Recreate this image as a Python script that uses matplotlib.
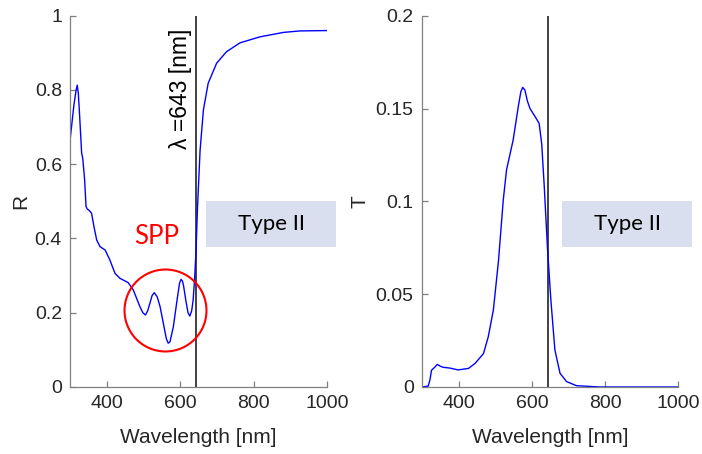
import matplotlib
matplotlib.use('Agg')
import matplotlib.pyplot as plt
from matplotlib.patches import Rectangle

plt.rcParams['font.family'] = ['Liberation Sans', 'DejaVu Sans']

# Data
wl_R = [300, 310, 316, 319, 322, 325, 331, 334, 339, 343, 346, 352, 358, 365, 372, 381,
        395, 408, 422, 435, 458, 472, 490, 498, 505, 511, 517, 523, 529, 537, 545, 556,
        562, 567, 572, 581, 592, 598, 602, 606, 609, 615, 621, 626, 631, 635, 639, 643,
        647, 654, 663, 676, 699, 726, 763, 817, 881, 926, 1000]
R = [0.67, 0.76, 0.80, 0.813, 0.79, 0.74, 0.63, 0.616, 0.56, 0.486, 0.48, 0.475, 0.468,
     0.43, 0.396, 0.378, 0.369, 0.342, 0.306, 0.293, 0.281, 0.261, 0.216, 0.20, 0.194,
     0.205, 0.225, 0.246, 0.254, 0.243, 0.216, 0.16, 0.13, 0.118, 0.122, 0.162, 0.24,
     0.28, 0.29, 0.285, 0.272, 0.234, 0.2, 0.191, 0.205, 0.234, 0.29, 0.369, 0.486,
     0.638, 0.746, 0.818, 0.872, 0.903, 0.927, 0.943, 0.955, 0.959, 0.96]

wl_T = [300, 317, 322, 326, 334, 342, 350, 358, 376, 399, 427, 445, 468, 481, 495, 509,
        522, 531, 549, 563, 570, 575, 581, 588, 595, 609, 620, 627, 634, 643, 652, 663,
        677, 695, 722, 786, 1000]
T = [0.0, 0.0005, 0.004, 0.009, 0.0105, 0.0122, 0.0112, 0.0106, 0.0102, 0.0092, 0.010,
     0.0127, 0.018, 0.027, 0.0415, 0.068, 0.1007, 0.117, 0.133, 0.151, 0.159, 0.1614,
     0.160, 0.154, 0.150, 0.1456, 0.142, 0.131, 0.108, 0.074, 0.047, 0.020, 0.0074,
     0.0029, 0.0007, 0.0, 0.0]

lam = 643

fig = plt.figure(figsize=(7.02, 4.54), dpi=100)
ax1 = fig.add_axes([0.1001, 0.1476, 0.3657, 0.8178])
ax2 = fig.add_axes([0.6011, 0.1476, 0.3651, 0.8178])

tick_col = '#262626'
for ax in (ax1, ax2):
    ax.spines['top'].set_visible(False)
    ax.spines['right'].set_visible(False)
    for s in ('left', 'bottom'):
        ax.spines[s].set_color('#808080')
        ax.spines[s].set_linewidth(0.9)
    ax.tick_params(direction='in', length=4, color='#808080', labelsize=14,
                   labelcolor=tick_col, width=0.9)
    ax.tick_params(axis='x', pad=6)
    ax.tick_params(axis='y', pad=6)
    ax.set_xlim(300, 1000)
    ax.set_xticks([400, 600, 800, 1000])
    ax.set_xlabel('Wavelength [nm]', fontsize=15, color=tick_col)
    ax.xaxis.set_label_coords(0.5, -0.11)
    ax.axvline(lam, color='#222222', lw=1.2)

# Reflectance
ax1.plot(wl_R, R, color='#0000ff', lw=1.0)
ax1.set_ylim(0, 1)
ax1.set_yticks([0, 0.2, 0.4, 0.6, 0.8, 1])
ax1.set_yticklabels(['0', '0.2', '0.4', '0.6', '0.8', '1'])
ax1.set_ylabel('R', fontsize=15, color=tick_col)
ax1.yaxis.set_label_coords(-0.157, 0.5)
ax1.text(601, 0.804, 'λ =643 [nm]', rotation=90, ha='center', va='center',
         fontsize=16.5, color='black')
ax1.text(536, 0.404, 'SPP', ha='center', va='center', fontsize=18.5,
         color='#ff0000', family=['Lato', 'DejaVu Sans'])
ax1.plot([558], [0.207], marker='o', markersize=59, markerfacecolor='none',
         markeredgecolor='#ff0000', markeredgewidth=1.5, clip_on=False)

# Transmittance
ax2.plot(wl_T, T, color='#0000ff', lw=1.0)
ax2.set_ylim(0, 0.2)
ax2.set_yticks([0, 0.05, 0.1, 0.15, 0.2])
ax2.set_yticklabels(['0', '0.05', '0.1', '0.15', '0.2'])
ax2.set_ylabel('T', fontsize=15, color=tick_col)
ax2.yaxis.set_label_coords(-0.203, 0.5)

# "Type II" boxes
W, H = 702, 454
for x0 in (206, 562):
    fig.patches.append(Rectangle((x0 / W, 1 - 247 / H), 130 / W, 46 / H,
                                 transform=fig.transFigure, facecolor='#dadfef',
                                 edgecolor='none', zorder=5))
    fig.text((x0 + 65) / W, 1 - 224 / H, 'Type II', ha='center', va='center',
             fontsize=16, color='black', family=['Lato', 'DejaVu Sans'], zorder=6)

fig.savefig('out.png', dpi=100)
